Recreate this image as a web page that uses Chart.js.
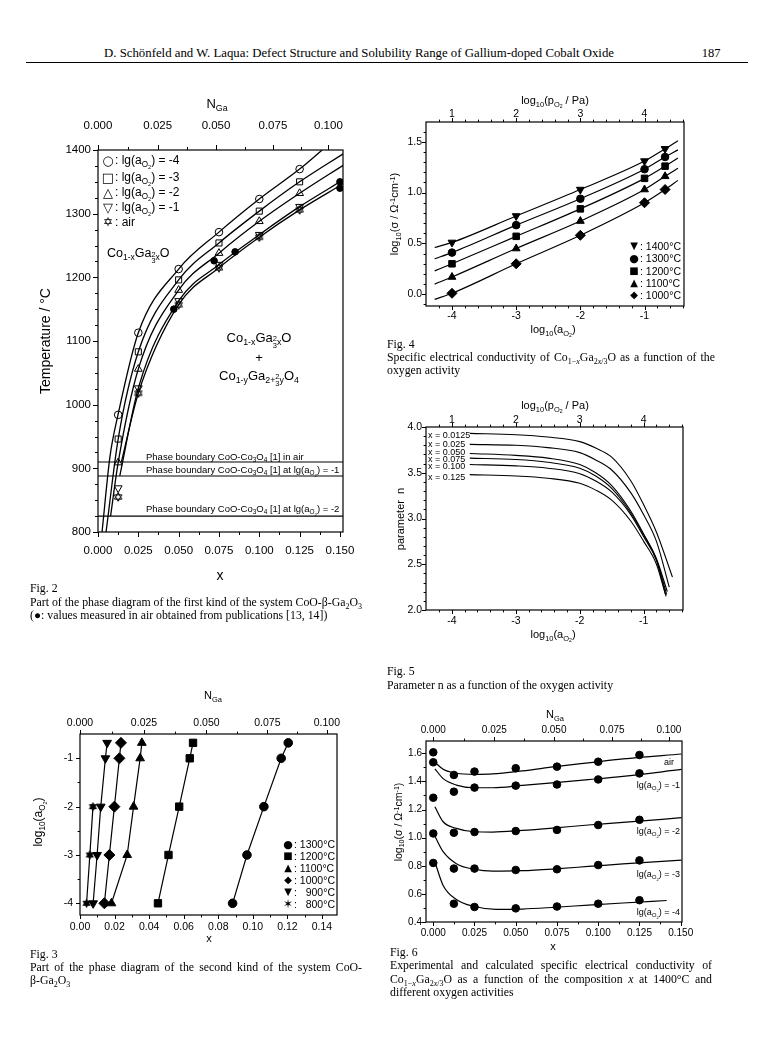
<!DOCTYPE html>
<html lang="en">
<head>
<meta charset="UTF-8" />
<title>Defect Structure and Solubility Range of Gallium-doped Cobalt Oxide</title>
<script src="https://cdn.jsdelivr.net/npm/chart.js"></script>
<style>
  body { margin: 0; background: #fff; }
  #page { position: relative; width: 772px; height: 1057px; overflow: hidden; font-family: "Liberation Sans", Arial, sans-serif; color: #000; }
  canvas { position: absolute; }
  .c, .l, .rt, .rc { position: absolute; white-space: nowrap; line-height: 1; }
  .c { transform: translate(-50%, -50%); }
  .l { transform: translateY(-50%); }
  .rt { transform: translate(-100%, -50%); }
  .rc { transform: translate(-50%, -50%) rotate(-90deg); }
  .serif { font-family: "Liberation Serif", "Times New Roman", serif; font-size: 11.8px; }
  .just { text-align: justify; text-align-last: justify; }
  sub, sup { font-size: 68%; line-height: 0; position: relative; vertical-align: baseline; }
  sub { top: 0.35em; }
  sup { top: -0.45em; }
  .fr { display: inline-block; font-size: 85%; line-height: 0.85; text-align: center; vertical-align: middle; }
  .sym { font-family: "DejaVu Sans", sans-serif; }
</style>
</head>
<body>
<div id="page">
  <!-- header -->
  <div class="c serif" style="left:359px;top:53px;font-size:12.8px">D. Schönfeld and W. Laqua: Defect Structure and Solubility Range of Gallium-doped Cobalt Oxide</div>
  <div class="c serif" style="left:711px;top:53px;font-size:12.5px">187</div>
  <div style="position:absolute;left:26px;top:62px;width:722px;border-top:1px solid #000"></div>

  <canvas id="fig2"></canvas>
  <canvas id="fig4"></canvas>
  <canvas id="fig5"></canvas>
  <canvas id="fig3"></canvas>
  <canvas id="fig6"></canvas>

  <!-- Fig. 2 -->
  <div class="c" style="left:217px;top:103px;font-size:13px">N<sub>Ga</sub></div>
  <div class="rc" style="left:45px;top:341px;font-size:14px">Temperature / °C</div>
  <div class="c" style="left:220px;top:575px;font-size:14px">x</div>
  <div class="c sym" style="left:108px;top:160px;font-size:13px">○</div>
  <div class="c sym" style="left:108px;top:177px;font-size:13px">□</div>
  <div class="c sym" style="left:108px;top:192px;font-size:13px">△</div>
  <div class="c sym" style="left:108px;top:207px;font-size:13px">▽</div>
  <div class="c sym" style="left:108px;top:222px;font-size:12px">✡</div>
  <div class="l" style="left:115px;top:160px;font-size:12px">: lg(a<sub>O<sub>2</sub></sub>) = -4</div>
  <div class="l" style="left:115px;top:177px;font-size:12px">: lg(a<sub>O<sub>2</sub></sub>) = -3</div>
  <div class="l" style="left:115px;top:192px;font-size:12px">: lg(a<sub>O<sub>2</sub></sub>) = -2</div>
  <div class="l" style="left:115px;top:207px;font-size:12px">: lg(a<sub>O<sub>2</sub></sub>) = -1</div>
  <div class="l" style="left:115px;top:222px;font-size:12px">: air</div>
  <div class="l" style="left:107px;top:254px;font-size:12.5px">Co<sub>1-x</sub>Ga<sub><span class="fr">2<br>3</span>x</sub>O</div>
  <div class="c" style="left:259px;top:339px;font-size:13px">Co<sub>1-x</sub>Ga<sub><span class="fr">2<br>3</span>x</sub>O</div>
  <div class="c" style="left:259px;top:357px;font-size:13px">+</div>
  <div class="c" style="left:259px;top:377px;font-size:13px">Co<sub>1-y</sub>Ga<sub>2+<span class="fr">2<br>3</span>y</sub>O<sub>4</sub></div>
  <div class="l" style="left:146px;top:457px;font-size:9.5px">Phase boundary CoO-Co<sub>3</sub>O<sub>4</sub> [1] in air</div>
  <div class="l" style="left:146px;top:470px;font-size:9.5px">Phase boundary CoO-Co<sub>3</sub>O<sub>4</sub> [1] at lg(a<sub>O<sub>2</sub></sub>) = -1</div>
  <div class="l" style="left:146px;top:509px;font-size:9.5px">Phase boundary CoO-Co<sub>3</sub>O<sub>4</sub> [1] at lg(a<sub>O<sub>2</sub></sub>) = -2</div>
  <div class="l serif" style="left:30px;top:589px">Fig. 2</div>
  <div class="l serif just" style="left:30px;top:603px;width:332px">Part of the phase diagram of the first kind of the system CoO-β-Ga<sub>2</sub>O<sub>3</sub></div>
  <div class="l serif" style="left:30px;top:616px">(●: values measured in air obtained from publications [13, 14])</div>

  <!-- Fig. 4 -->
  <div class="c" style="left:555px;top:100px;font-size:11px">log<sub>10</sub>(p<sub>O<sub>2</sub></sub> / Pa)</div>
  <div class="rc" style="left:394px;top:214px;font-size:11px">log<sub>10</sub>(σ / Ω<sup>-1</sup>cm<sup>-1</sup>)</div>
  <div class="c" style="left:553px;top:329px;font-size:11px">log<sub>10</sub>(a<sub>O<sub>2</sub></sub>)</div>
  <div class="c sym" style="left:634px;top:246px;font-size:10px">▼</div>
  <div class="c sym" style="left:634px;top:258px;font-size:11px">●</div>
  <div class="c sym" style="left:634px;top:271px;font-size:10px">■</div>
  <div class="c sym" style="left:634px;top:283px;font-size:10px">▲</div>
  <div class="c sym" style="left:634px;top:295px;font-size:10px">◆</div>
  <div class="l" style="left:640px;top:246px;font-size:10.5px">: 1400°C</div>
  <div class="l" style="left:640px;top:258px;font-size:10.5px">: 1300°C</div>
  <div class="l" style="left:640px;top:271px;font-size:10.5px">: 1200°C</div>
  <div class="l" style="left:640px;top:283px;font-size:10.5px">: 1100°C</div>
  <div class="l" style="left:640px;top:295px;font-size:10.5px">: 1000°C</div>
  <div class="l serif" style="left:387px;top:345px">Fig. 4</div>
  <div class="l serif just" style="left:387px;top:358px;width:328px">Specific electrical conductivity of Co<sub>1−<i>x</i></sub>Ga<sub>2<i>x</i>/3</sub>O as a function of the</div>
  <div class="l serif" style="left:387px;top:371px">oxygen activity</div>

  <!-- Fig. 5 -->
  <div class="c" style="left:555px;top:405px;font-size:11px">log<sub>10</sub>(p<sub>O<sub>2</sub></sub> / Pa)</div>
  <div class="rc" style="left:400px;top:519px;font-size:11px">parameter&nbsp; n</div>
  <div class="c" style="left:553px;top:634px;font-size:11px">log<sub>10</sub>(a<sub>O<sub>2</sub></sub>)</div>
  <div class="l" style="left:428px;top:435px;font-size:9px">x = 0.0125</div>
  <div class="l" style="left:428px;top:444px;font-size:9px">x = 0.025</div>
  <div class="l" style="left:428px;top:452px;font-size:9px">x = 0.050</div>
  <div class="l" style="left:428px;top:459px;font-size:9px">x = 0.075</div>
  <div class="l" style="left:428px;top:466px;font-size:9px">x = 0.100</div>
  <div class="l" style="left:428px;top:477px;font-size:9px">x = 0.125</div>
  <div class="l serif" style="left:387px;top:672px">Fig. 5</div>
  <div class="l serif" style="left:387px;top:686px">Parameter n as a function of the oxygen activity</div>

  <!-- Fig. 3 -->
  <div class="c" style="left:213px;top:695px;font-size:11px">N<sub>Ga</sub></div>
  <div class="rc" style="left:38px;top:822px;font-size:12px">log<sub>10</sub>(a<sub>O<sub>2</sub></sub>)</div>
  <div class="c" style="left:209px;top:938px;font-size:11px">x</div>
  <div class="c sym" style="left:288px;top:844px;font-size:11px">●</div>
  <div class="c sym" style="left:288px;top:856px;font-size:10px">■</div>
  <div class="c sym" style="left:288px;top:868px;font-size:10px">▲</div>
  <div class="c sym" style="left:288px;top:880px;font-size:10px">◆</div>
  <div class="c sym" style="left:288px;top:892px;font-size:10px">▼</div>
  <div class="c sym" style="left:288px;top:904px;font-size:12px">✶</div>
  <div class="l" style="left:294px;top:844px;font-size:10.5px">: 1300°C</div>
  <div class="l" style="left:294px;top:856px;font-size:10.5px">: 1200°C</div>
  <div class="l" style="left:294px;top:868px;font-size:10.5px">: 1100°C</div>
  <div class="l" style="left:294px;top:880px;font-size:10.5px">: 1000°C</div>
  <div class="l" style="left:294px;top:892px;font-size:10.5px">: &#8199;900°C</div>
  <div class="l" style="left:294px;top:904px;font-size:10.5px">: &#8199;800°C</div>
  <div class="l serif" style="left:30px;top:955px">Fig. 3</div>
  <div class="l serif just" style="left:30px;top:968px;width:332px">Part of the phase diagram of the second kind of the system CoO-</div>
  <div class="l serif" style="left:30px;top:981px">β-Ga<sub>2</sub>O<sub>3</sub></div>

  <!-- Fig. 6 -->
  <div class="c" style="left:555px;top:714px;font-size:11px">N<sub>Ga</sub></div>
  <div class="rc" style="left:398px;top:822px;font-size:10.5px">log<sub>10</sub>(σ / Ω<sup>-1</sup>cm<sup>-1</sup>)</div>
  <div class="c" style="left:553px;top:946px;font-size:11px">x</div>
  <div class="rt" style="left:674px;top:762px;font-size:9px">air</div>
  <div class="rt" style="left:680px;top:785px;font-size:9px">lg(a<sub>O<sub>2</sub></sub>) = -1</div>
  <div class="rt" style="left:680px;top:831px;font-size:9px">lg(a<sub>O<sub>2</sub></sub>) = -2</div>
  <div class="rt" style="left:680px;top:874px;font-size:9px">lg(a<sub>O<sub>2</sub></sub>) = -3</div>
  <div class="rt" style="left:680px;top:912px;font-size:9px">lg(a<sub>O<sub>2</sub></sub>) = -4</div>
  <div class="l serif" style="left:390px;top:953px">Fig. 6</div>
  <div class="l serif just" style="left:390px;top:966px;width:322px">Experimental and calculated specific electrical conductivity of</div>
  <div class="l serif just" style="left:390px;top:980px;width:322px">Co<sub>1−<i>x</i></sub>Ga<sub>2<i>x</i>/3</sub>O as a function of the composition <i>x</i> at 1400°C and</div>
  <div class="l serif" style="left:390px;top:993px">different oxygen activities</div>
</div>

<script>
  // ---------- Fig. 2: T vs x (first kind) ----------
  const f2X = [0.0125, 0.025, 0.05, 0.075, 0.1, 0.125];
  const f2Tm4 = [984, 1113, 1213, 1271, 1323, 1370];
  const f2Tm3 = [946, 1083, 1196, 1254, 1304, 1350];
  const f2Tm2 = [909, 1056, 1180, 1238, 1288, 1332];
  const f2Tm1 = [869, 1026, 1163, 1220, 1267, 1311];
  const f2Tair = [855, 1018, 1157, 1215, 1263, 1306];
  const f2LitX = [0.047, 0.072, 0.085, 0.15, 0.15];
  const f2LitT = [1150, 1226, 1240, 1350, 1340];
  // fitted curves
  const f2Cm4X = [0.0025, 0.0074, 0.0124, 0.025, 0.05, 0.075, 0.1, 0.125, 0.139];
  const f2Cm4T = [800, 918, 984, 1113, 1213, 1271, 1323, 1370, 1400];
  const f2Cm3X = [0.005, 0.0125, 0.025, 0.05, 0.075, 0.1, 0.125, 0.152];
  const f2Cm3T = [800, 946, 1083, 1196, 1254, 1304, 1350, 1394];
  const f2Cm2X = [0.0078, 0.0125, 0.025, 0.05, 0.075, 0.1, 0.125, 0.152];
  const f2Cm2T = [825, 909, 1056, 1180, 1238, 1288, 1332, 1376];
  const f2Cm1X = [0.0135, 0.025, 0.05, 0.075, 0.1, 0.125, 0.152];
  const f2Cm1T = [888, 1026, 1163, 1220, 1267, 1311, 1353];
  const f2CairX = [0.0145, 0.025, 0.05, 0.075, 0.1, 0.125, 0.152];
  const f2CairT = [910, 1018, 1157, 1215, 1263, 1306, 1347];
  const f2Phase = [910, 888, 825];

  // ---------- Fig. 4: conductivity vs lg a(O2) ----------
  const f4X = [-4, -3, -2, -1, -0.68];
  const f4S1400 = [0.51, 0.77, 1.03, 1.31, 1.43];
  const f4S1300 = [0.41, 0.68, 0.94, 1.23, 1.35];
  const f4S1200 = [0.30, 0.57, 0.84, 1.14, 1.26];
  const f4S1100 = [0.17, 0.45, 0.72, 1.03, 1.16];
  const f4S1000 = [0.01, 0.30, 0.58, 0.90, 1.03];
  const f4LineX = [-4.27, -0.48];
  const f4LineStart = [0.46, 0.35, 0.23, 0.10, -0.05];
  const f4LineEnd = [1.51, 1.42, 1.34, 1.24, 1.12];

  // ---------- Fig. 5: parameter n ----------
  const f5X = [-3.72, -3, -2.5, -2, -1.75, -1.5, -1.2, -1, -0.8];
  const f5N0125 = [3.93, 3.915, 3.89, 3.84, 3.77, 3.67, 3.41, 3.15, 2.85];
  const f5N025 = [3.81, 3.80, 3.775, 3.72, 3.64, 3.53, 3.28, 3.04, 2.75];
  const f5N050 = [3.71, 3.69, 3.66, 3.59, 3.50, 3.36, 3.08, 2.83, 2.56];
  const f5N075 = [3.66, 3.645, 3.615, 3.55, 3.465, 3.33, 3.06, 2.82, 2.55];
  const f5N100 = [3.59, 3.575, 3.55, 3.49, 3.41, 3.29, 3.04, 2.80, 2.54];
  const f5N125 = [3.48, 3.465, 3.44, 3.385, 3.31, 3.20, 2.97, 2.75, 2.50];
  const f5EndX = [-0.55, -0.6, -0.63, -0.64, -0.65, -0.66];
  const f5EndN = [2.36, 2.25, 2.20, 2.17, 2.15, 2.17];

  // ---------- Fig. 3: lg a(O2) vs x (second kind) ----------
  const f3A = [-4, -3, -2, -1, -0.68];
  const f3X1300 = [0.0883, 0.0966, 0.1064, 0.1164, 0.1205];
  const f3X1200 = [0.0451, 0.0512, 0.0574, 0.0635, 0.0654];
  const f3X1100 = [0.0182, 0.0273, 0.031, 0.0348, 0.0358];
  const f3X1000 = [0.0141, 0.017, 0.0199, 0.0228, 0.0237];
  const f3X900 = [0.0076, 0.0099, 0.012, 0.0147, 0.0157];
  const f3A800 = [-4, -3, -2];
  const f3X800 = [0.0038, 0.0057, 0.0075];

  // ---------- Fig. 6: conductivity vs x at 1400 °C ----------
  const f6X = [0, 0.0125, 0.025, 0.05, 0.075, 0.1, 0.125];
  const f6Air = [1.607, 1.446, 1.47, 1.494, 1.505, 1.54, 1.588];
  const f6M1 = [1.536, 1.327, 1.356, 1.37, 1.378, 1.414, 1.457];
  const f6M2 = [1.284, 1.035, 1.04, 1.047, 1.055, 1.09, 1.127];
  const f6M3 = [1.03, 0.78, 0.78, 0.77, 0.775, 0.805, 0.838];
  const f6M4 = [0.82, 0.53, 0.507, 0.497, 0.51, 0.53, 0.555];
  const f6CX = [0.001, 0.006, 0.014, 0.025, 0.036, 0.054, 0.074, 0.094, 0.115, 0.1505];
  const f6CAir = [1.536, 1.486, 1.458, 1.45, 1.453, 1.475, 1.505, 1.532, 1.56, 1.595];
  const f6CM1 = [1.49, 1.42, 1.374, 1.355, 1.355, 1.372, 1.392, 1.413, 1.436, 1.485];
  const f6CM2 = [1.22, 1.113, 1.066, 1.042, 1.040, 1.052, 1.07, 1.09, 1.108, 1.142];
  const f6CM3 = [1.01, 0.90, 0.815, 0.775, 0.762, 0.765, 0.778, 0.795, 0.813, 0.84];
  const f6CM4X = [0.0012, 0.006, 0.014, 0.025, 0.038, 0.054, 0.074, 0.094, 0.115, 0.1415];
  const f6CM4 = [0.82, 0.66, 0.56, 0.51, 0.49, 0.492, 0.505, 0.52, 0.535, 0.553];

  // N_Ga tick labels of the upper axes
  const nGa = [0, 0.025, 0.05, 0.075, 0.1];
  const nGaMinor = [0.0125, 0.0375, 0.0625, 0.0875];
  const toX = n => 3 * n / (2 + n);   // N_Ga = (2x/3) / (1 - x/3)

  const M = 70;
  const SANS = '"Liberation Sans", Arial, sans-serif';

  function steps(a, b, d) {
    const r = [];
    for (let v = a; v <= b + 1e-9; v += d) r.push(+v.toFixed(6));
    return r;
  }
  function without(list, major) {
    return list.filter(v => !major.some(m => Math.abs(m - v) < 1e-7));
  }

  function place(id, L, T, R, B) {
    const cv = document.getElementById(id);
    cv.width = R - L + 2 * M;
    cv.height = B - T + 2 * M;
    cv.style.left = (L - M) + 'px';
    cv.style.top = (T - M) + 'px';
    return cv;
  }

  function axis(position, min, max, major, labels, size, pad) {
    return {
      type: 'linear', position, min, max, bounds: 'data',
      grid: { display: false, drawTicks: false },
      border: { display: false },
      ticks: {
        color: '#000', padding: pad, autoSkip: false, maxRotation: 0, minRotation: 0,
        font: { family: SANS, size },
        callback: (v, i) => labels[i]
      },
      afterBuildTicks: s => { s.ticks = major.map(v => ({ value: v })); },
      afterFit: s => { if (s.isHorizontal()) s.height = M; else s.width = M; }
    };
  }

  // frame + outward tick marks
  function frame(marks, len) {
    return {
      id: 'frame',
      afterDraw(chart) {
        const { ctx, chartArea: a } = chart;
        ctx.save();
        ctx.strokeStyle = '#000';
        ctx.lineWidth = 1.2;
        ctx.strokeRect(a.left, a.top, a.right - a.left, a.bottom - a.top);
        ctx.lineWidth = 1;
        for (const id in marks) {
          const s = chart.scales[id];
          marks[id].forEach((vals, k) => {
            const d = k === 0 ? len : len * 0.6;
            vals.forEach(v => {
              const p = Math.round(s.getPixelForValue(v)) + 0.5;
              ctx.beginPath();
              if (s.position === 'bottom') { ctx.moveTo(p, a.bottom); ctx.lineTo(p, a.bottom + d); }
              else if (s.position === 'top') { ctx.moveTo(p, a.top); ctx.lineTo(p, a.top - d); }
              else { ctx.moveTo(a.left, p); ctx.lineTo(a.left - d, p); }
              ctx.stroke();
            });
          });
        }
        ctx.restore();
      }
    };
  }

  function pts(xs, ys) { return xs.map((x, i) => ({ x, y: ys[i] })); }

  function curve(xs, ys, smooth, w) {
    return {
      data: pts(xs, ys), showLine: true, pointRadius: 0,
      borderColor: '#000', borderWidth: w || 1.2,
      cubicInterpolationMode: smooth ? 'monotone' : 'default', tension: 0
    };
  }

  function dots(xs, ys, style, r, filled, rot) {
    return {
      data: pts(xs, ys), showLine: false,
      pointStyle: style, pointRadius: r, pointRotation: rot || 0,
      pointBorderColor: '#000', pointBorderWidth: 1,
      pointBackgroundColor: filled ? '#000' : 'rgba(0,0,0,0)'
    };
  }

  function hexagram(size, filled) {
    const c = document.createElement('canvas');
    c.width = c.height = size;
    const g = c.getContext('2d');
    const r = size / 2 - 0.7, m = size / 2;
    g.strokeStyle = g.fillStyle = '#000';
    g.lineWidth = 1;
    [0, Math.PI].forEach(off => {
      g.beginPath();
      for (let k = 0; k < 3; k++) {
        const a = off - Math.PI / 2 + k * 2 * Math.PI / 3;
        const px = m + r * Math.cos(a), py = m + r * Math.sin(a);
        k ? g.lineTo(px, py) : g.moveTo(px, py);
      }
      g.closePath();
      filled ? g.fill() : g.stroke();
    });
    return c;
  }

  function makeChart(id, box, scales, datasets, marks, len) {
    const cv = place(id, ...box);
    return new Chart(cv, {
      type: 'scatter',
      data: { datasets },
      options: {
        responsive: false, animation: false, events: [],
        layout: { padding: { right: M } },
        plugins: { legend: { display: false }, tooltip: { enabled: false } },
        scales
      },
      plugins: [frame(marks, len)]
    });
  }

  const nGaX = nGa.map(toX);
  const nGaLbl = nGa.map(v => v.toFixed(3));
  const nGaMinX = nGaMinor.map(toX);

  // ---- Fig. 2 ----
  {
    const xMin = 0, xMax = 0.1519;
    const xMaj = steps(0, 0.15, 0.025), yMaj = steps(800, 1400, 100);
    const xMin2 = without(steps(0.0125, 0.15, 0.0125), xMaj);
    const yMin2 = without(steps(825, 1375, 25), yMaj);
    makeChart('fig2', [98, 150, 343, 532], {
      x: axis('bottom', xMin, xMax, xMaj, xMaj.map(v => v.toFixed(3)), 11.5, 12),
      x2: axis('top', xMin, xMax, nGaX, nGaLbl, 11.5, 17),
      y: axis('left', 800, 1400, yMaj, yMaj.map(String), 11.5, 7)
    }, [
      curve(f2Cm4X, f2Cm4T, true, 1.3),
      curve(f2Cm3X, f2Cm3T, true, 1.3),
      curve(f2Cm2X, f2Cm2T, true, 1.3),
      curve(f2Cm1X, f2Cm1T, true, 1.3),
      curve(f2CairX, f2CairT, true, 1.3),
      ...f2Phase.map(T => curve([xMin, xMax], [T, T], false, 1.1)),
      dots(f2X, f2Tm4, 'circle', 3.8, false),
      dots(f2X, f2Tm3, 'rect', 4.3, false),
      dots(f2X, f2Tm2, 'triangle', 4.5, false),
      dots(f2X, f2Tm1, 'triangle', 4.5, false, 180),
      dots(f2X, f2Tair, hexagram(10, false), 4, false),
      dots(f2LitX, f2LitT, 'circle', 3.3, true)
    ], { x: [xMaj, xMin2], x2: [nGaX, nGaMinX], y: [yMaj, yMin2] }, 5);
  }

  // ---- Fig. 4 ----
  {
    const xMin = -4.405, xMax = -0.385;
    const xMaj = [-4, -3, -2, -1], yMaj = [0, 0.5, 1, 1.5];
    const xMin2 = without(steps(-4.2, -0.4, 0.2), xMaj);
    const yMin2 = without(steps(-0.1, 1.6, 0.1), yMaj);
    const series = [f4S1400, f4S1300, f4S1200, f4S1100, f4S1000];
    const styles = [['triangle', 4.5, 180], ['circle', 3.8, 0], ['rect', 4.6, 0], ['triangle', 4.5, 0], ['rectRot', 5, 0]];
    makeChart('fig4', [426, 122, 684, 306], {
      x: axis('bottom', xMin, xMax, xMaj, xMaj.map(String), 10.5, 4),
      x2: axis('top', xMin, xMax, xMaj, xMaj.map(v => String(v + 5)), 10.5, 2),
      y: axis('left', -0.115, 1.694, yMaj, yMaj.map(v => v.toFixed(1)), 10.5, 4)
    }, [
      ...series.map((s, i) => curve([f4LineX[0], ...f4X, f4LineX[1]], [f4LineStart[i], ...s, f4LineEnd[i]], true)),
      ...series.map((s, i) => dots(f4X, s, styles[i][0], styles[i][1], true, styles[i][2]))
    ], { x: [xMaj, xMin2], x2: [xMaj, xMin2], y: [yMaj, yMin2] }, 4);
  }

  // ---- Fig. 5 ----
  {
    const xMin = -4.405, xMax = -0.385;
    const xMaj = [-4, -3, -2, -1], yMaj = [2, 2.5, 3, 3.5, 4];
    const xMin2 = without(steps(-4.2, -0.4, 0.2), xMaj);
    const yMin2 = without(steps(2.1, 3.9, 0.1), yMaj);
    const series = [f5N0125, f5N025, f5N050, f5N075, f5N100, f5N125];
    makeChart('fig5', [426, 427, 683, 610], {
      x: axis('bottom', xMin, xMax, xMaj, xMaj.map(String), 10.5, 5),
      x2: axis('top', xMin, xMax, xMaj, xMaj.map(v => String(v + 5)), 10.5, 1),
      y: axis('left', 2, 4, yMaj, yMaj.map(v => v.toFixed(1)), 10.5, 4)
    }, series.map((s, i) => curve([...f5X, f5EndX[i]], [...s, f5EndN[i]], true, 1.1)),
    { x: [xMaj, xMin2], x2: [xMaj, xMin2], y: [yMaj, yMin2] }, 4);
  }

  // ---- Fig. 3 ----
  {
    const xMin = 0, xMax = 0.1487;
    const xMaj = steps(0, 0.14, 0.02), yMaj = [-4, -3, -2, -1];
    const xMin2 = without(steps(0.01, 0.14, 0.01), xMaj);
    const yMin2 = [-3.5, -2.5, -1.5];
    const series = [f3X1300, f3X1200, f3X1100, f3X1000, f3X900];
    const styles = [['circle', 4.3, 0], ['rect', 5.2, 0], ['triangle', 5, 0], ['rectRot', 5.5, 0], ['triangle', 5, 180]];
    makeChart('fig3', [80, 734, 337, 915], {
      x: axis('bottom', xMin, xMax, xMaj, xMaj.map(v => v.toFixed(2)), 10.5, 6),
      x2: axis('top', xMin, xMax, nGaX, nGaLbl, 10.5, 5),
      y: axis('left', -4.242, -0.497, yMaj, yMaj.map(String), 10.5, 7)
    }, [
      ...series.map(s => curve(s, f3A, false)),
      curve(f3X800, f3A800, false),
      ...series.map((s, i) => dots(s, f3A, styles[i][0], styles[i][1], true, styles[i][2])),
      dots(f3X800, f3A800, hexagram(11, true), 4, true)
    ], { x: [xMaj, xMin2], x2: [nGaX, nGaMinX], y: [yMaj, yMin2] }, 4);
  }

  // ---- Fig. 6 ----
  {
    const xMin = -0.0044, xMax = 0.1508;
    const xMaj = steps(0, 0.15, 0.025), yMaj = steps(0.4, 1.6, 0.2);
    const xMin2 = without(steps(0.0125, 0.15, 0.0125), xMaj);
    const yMin2 = without(steps(0.5, 1.6, 0.1), yMaj);
    makeChart('fig6', [426, 741, 682, 922], {
      x: axis('bottom', xMin, xMax, xMaj, xMaj.map(v => v.toFixed(3)), 10, 5),
      x2: axis('top', xMin, xMax, nGaX, nGaLbl, 10, 5),
      y: axis('left', 0.4, 1.6875, yMaj, yMaj.map(v => v.toFixed(1)), 10, 4)
    }, [
      curve(f6CX, f6CAir, true),
      curve(f6CX, f6CM1, true),
      curve(f6CX, f6CM2, true),
      curve(f6CX, f6CM3, true),
      curve(f6CM4X, f6CM4, true),
      ...[f6Air, f6M1, f6M2, f6M3, f6M4].map(s => dots(f6X, s, 'circle', 3.8, true))
    ], { x: [xMaj, xMin2], x2: [nGaX, nGaMinX], y: [yMaj, yMin2] }, 4);
  }
</script>
</body>
</html>
